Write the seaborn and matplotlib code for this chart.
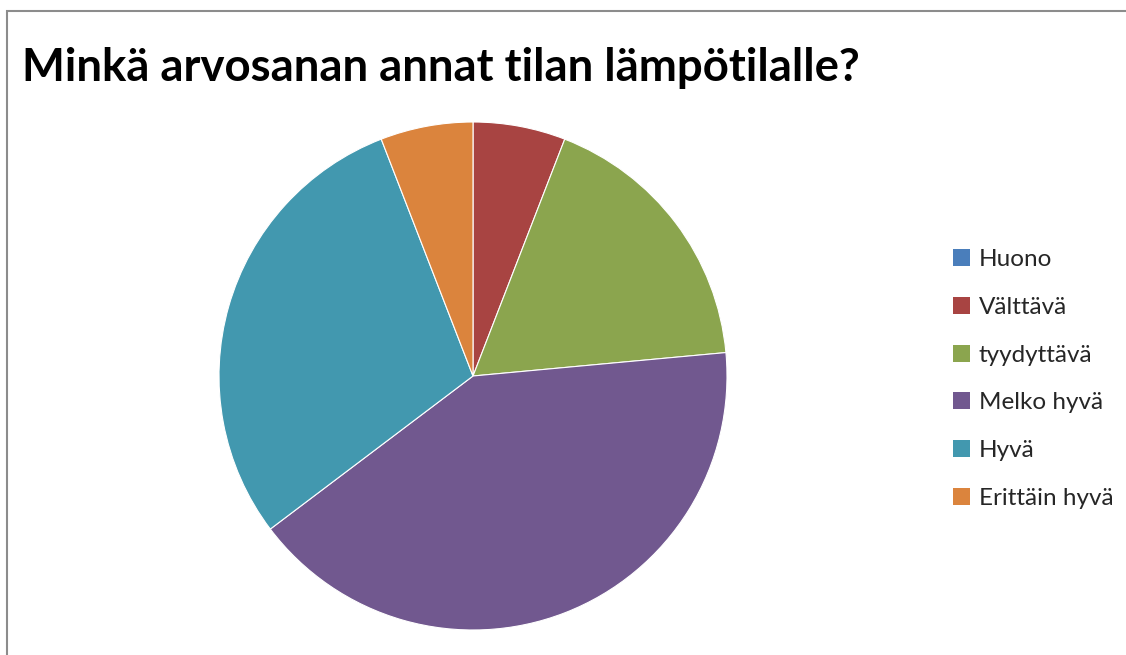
import matplotlib
matplotlib.use("Agg")
import matplotlib.pyplot as plt
import seaborn as sns
from matplotlib.patches import Patch, Rectangle

sns.set_theme(style="white")
plt.rcParams['font.family'] = ['Lato', 'DejaVu Sans']

title = "Minkä arvosanan annat tilan lämpötilalle?"
categories = ["Huono", "Välttävä", "tyydyttävä", "Melko hyvä", "Hyvä", "Erittäin hyvä"]
counts = [0, 1, 3, 7, 5, 1]
colors = ["#4A7EBB", "#A84442", "#8BA54E", "#71588F", "#4298AF", "#DB843D"]
palette = sns.color_palette(colors)

W, H = 1126, 655
fig = plt.figure(figsize=(W / 100, H / 100), dpi=100)

# outer chart frame
fig.add_artist(Rectangle((7 / W, -0.01), 1.2, (H - 11) / H + 0.01, transform=fig.transFigure,
                         fill=False, edgecolor="#8c8c8c", linewidth=1.5))

fig.text(22 / W, 1 - 68 / H, title, fontsize=32.8, fontweight="bold", color="black",
         va="center", ha="left")

ax = fig.add_axes([219 / W, (H - 630) / H, 508 / W, 508 / H])
wedges, _ = ax.pie(counts, colors=palette, startangle=90, counterclock=False,
                   wedgeprops=dict(edgecolor="white", linewidth=0.8))
ax.set_aspect("equal")
ax.set_xlim(-1, 1)
ax.set_ylim(-1, 1)
ax.axis("off")

handles = [Patch(facecolor=c, edgecolor="none") for c in palette]
fig.legend(handles, categories, loc="upper left", bbox_to_anchor=(941 / W, 1 - 237 / H),
           frameon=False, fontsize=17.5, handlelength=0.7, handleheight=0.7,
           handletextpad=0.35, labelspacing=1.1, borderpad=0)

fig.savefig("out.png", dpi=100, facecolor="white")
